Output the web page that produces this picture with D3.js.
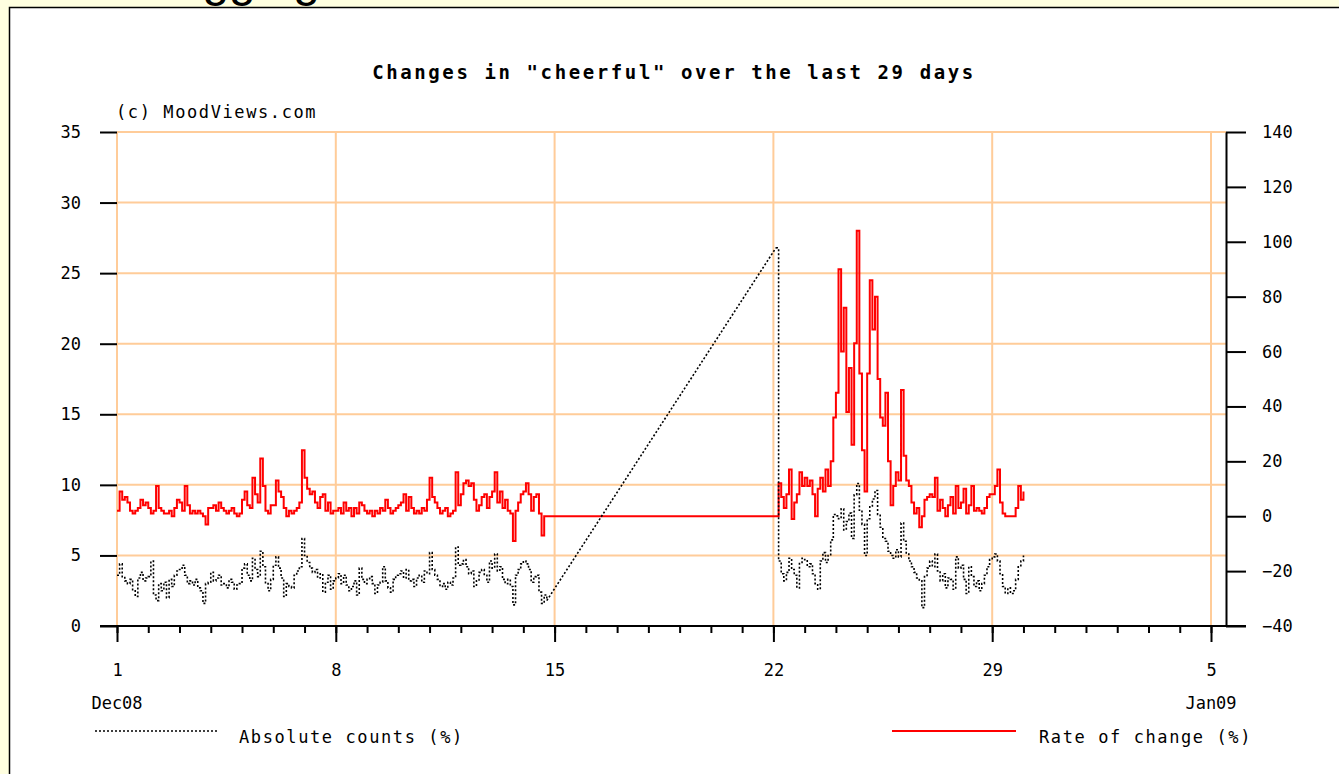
<!DOCTYPE html>
<html><head><meta charset="utf-8">
<script src="https://cdn.jsdelivr.net/npm/d3@7"></script>
<style>
body{margin:0;background:#ffffe0;overflow:hidden}
svg{display:block}
</style></head><body>
<svg id="c" width="1339" height="774"></svg>
<script>
// ---------- data ----------
const chartTitle = 'Changes in "cheerful" over the last 29 days';
const copyright = "(c) MoodViews.com";
const dayTickDays = [0, 7, 14, 21, 28, 35];          // days since Dec 1 2008
const dayTickLabels = ["1", "8", "15", "22", "29", "5"];
const monthLabelDays = [0, 35];
const monthLabels = ["Dec08", "Jan09"];
const leftTicks = [0, 5, 10, 15, 20, 25, 30, 35];
const rightTicks = [-40, -20, 0, 20, 40, 60, 80, 100, 120, 140];
const legendLabels = ["Absolute counts (%)", "Rate of change (%)"];

// samples every 2 hours
const stepDays = 2 / 24;
const seg1StartDay = 0;            // Dec 1 00:00
const seg2StartDay = 21 + 2 / 24;  // Dec 22 02:00

const rateSeg1 = [
  2, 9, 6, 7, 5, 2, 1, 2, 3, 6, 4, 5,
  3, 1, 2, 11, 3, 2, 1, 1, 2, 0, 3, 6,
  5, 2, 11, 4, 1, 2, 1, 2, 1, 0, -3, 3,
  3, 4, 2, 5, 3, 2, 1, 2, 3, 1, 0, 1,
  6, 9, 4, 3, 14, 8, 5, 21, 11, 2, 1, 4,
  4, 13, 9, 7, 3, 0, 2, 1, 2, 3, 5, 24,
  14, 10, 8, 9, 5, 3, 7, 8, 2, 5, 1, 2,
  2, 3, 1, 5, 2, 3, 0, 3, 1, 5, 4, 2,
  1, 2, 0, 2, 1, 3, 2, 6, 3, 1, 2, 3,
  4, 5, 8, 2, 7, 3, 1, 2, 1, 3, 2, 6,
  14, 7, 5, 3, 1, 2, 3, 0, 1, 2, 16, 4,
  8, 12, 13, 11, 12, 6, 2, 4, 7, 8, 3, 7,
  9, 16, 5, 9, 3, 6, 2, 1, -9, 2, 5, 8,
  9, 12, 8, 2, 7, 8, 1, -7, 0, 0
];
const absSeg1 = [
  3.6, 4.4, 3.5, 3.2, 3.0, 3.3, 2.5, 2.1, 3.4, 3.8, 3.2, 3.4,
  3.5, 4.6, 2.2, 1.8, 3.0, 2.5, 3.1, 2.0, 3.3, 2.8, 3.6, 3.9,
  4.0, 4.3, 3.6, 3.0, 3.2, 2.9, 3.3, 2.7, 2.5, 1.6, 3.0, 3.1,
  3.8, 3.2, 3.4, 3.6, 2.9, 3.0, 2.7, 3.3, 3.1, 2.6, 2.9, 3.0,
  4.1, 4.4, 3.6, 3.2, 4.8, 4.0, 3.5, 5.3, 4.2, 3.0, 2.5, 3.3,
  4.3, 4.9, 4.1, 3.4, 2.1, 3.0, 2.8, 2.7, 3.6, 3.9, 4.2, 6.2,
  5.0, 4.5, 4.1, 3.8, 4.0, 3.4, 3.7, 2.4, 3.1, 3.6, 2.6, 3.2,
  3.4, 3.7, 3.0, 3.6, 2.9, 2.5, 2.8, 3.2, 2.2, 4.1, 3.3, 3.0,
  3.3, 3.5, 3.0, 2.3, 2.9, 3.1, 4.2, 3.2, 2.7, 2.4, 3.3, 3.6,
  3.7, 3.9, 3.4, 4.0, 3.2, 3.3, 2.8, 3.4, 3.6, 3.1, 3.9, 3.7,
  5.2, 4.0, 3.6, 3.3, 2.8, 3.0, 2.6, 3.1, 2.9, 3.4, 5.6, 4.3,
  4.4, 4.7, 4.2, 3.7, 3.9, 2.8, 3.2, 3.8, 4.0, 3.6, 3.1, 4.6,
  4.1, 5.1, 3.9, 4.2, 3.3, 3.0, 3.3, 2.8, 1.5, 3.6, 4.0, 4.4,
  4.6, 4.4, 4.0, 3.1, 3.5, 3.6, 2.4, 1.6, 2.2, 1.8
];
const rateSeg2 = [
  0, 12, 7, 3, 8, 17, -1, 5, 8, 16, 11,
  14, 11, 13, 8, 0, 10, 14, 9, 17, 11, 20, 36,
  45, 90, 60, 76, 38, 54, 26, 63, 104, 52, 24, 9,
  52, 86, 68, 80, 50, 36, 33, 45, 20, 4, 11, 16,
  13, 46, 22, 13, 11, 5, 1, 3, -4, 0, 6, 7,
  8, 7, 14, 2, 6, 3, 0, 4, 7, 1, 11, 3,
  5, 10, 1, 4, 11, 2, 3, 2, 1, 3, 7, 8,
  8, 11, 17, 5, 1, 0, 0, 0, 0, 3, 11, 6,
  9
];
const absSeg2 = [
  26.8, 4.6, 3.7, 3.2, 3.8, 4.8, 4.0, 3.6, 2.7, 4.5, 4.8,
  4.7, 4.2, 4.4, 3.7, 3.0, 2.6, 4.6, 5.2, 4.5, 5.0, 6.1, 7.9,
  7.8, 7.6, 8.3, 6.8, 7.4, 8.0, 6.2, 9.3, 10.1, 8.2, 7.2, 5.0,
  7.6, 8.5, 9.0, 9.6, 7.9, 7.0, 6.2, 6.0, 5.3, 5.0, 4.8, 5.4,
  4.9, 7.3, 6.0, 5.1, 4.6, 4.2, 3.8, 3.4, 3.2, 1.3, 3.5, 4.1,
  4.6, 4.2, 5.1, 3.9, 3.2, 3.7, 2.7, 3.4, 3.3, 2.6, 4.9, 4.1,
  4.3, 3.3, 2.3, 4.2, 3.5, 2.8, 3.2, 2.5, 3.0, 3.6, 4.2, 4.7,
  4.9, 5.1, 4.6, 3.7, 2.8, 2.3, 2.7, 2.3, 2.5, 3.3, 4.2, 4.6,
  5.0
];

// ---------- build series ----------
function toPts(vals, start){ return vals.map((v,i)=>({t:start+i*stepDays, v})); }
const absPts1 = toPts(absSeg1, seg1StartDay), absPts2 = toPts(absSeg2, seg2StartDay);
const ratePts1 = toPts(rateSeg1, seg1StartDay), ratePts2 = toPts(rateSeg2, seg2StartDay);
const rateData = ratePts1.concat(ratePts2);
const absGap = [absPts1[absPts1.length-1], absPts2[0]];

// ---------- drawing ----------
const FONT = '"DejaVu Sans Mono", monospace';
const svg = d3.select("#c");

svg.append("text").attr("x", 133).attr("y", -4)
  .attr("font-family", "Liberation Sans, Arial, sans-serif").attr("font-size", 48)
  .attr("fill", "#000").text("Blogging");

svg.append("rect").attr("x", 9.5).attr("y", 7.5).attr("width", 1400).attr("height", 800)
  .attr("fill", "#ffffff").attr("stroke", "#000").attr("stroke-width", 1.5);

const x = d3.scaleLinear().domain([0, 35]).range([117, 1211]);
const yL = d3.scaleLinear().domain([0, 35]).range([626, 132]);
const yR = d3.scaleLinear().domain([-40, 140]).range([626, 132]);
const rightAxisX = 1226;
const grid = "#ffcc99";

// gridlines
svg.append("g").selectAll("line").data(leftTicks.filter(d=>d>0)).join("line")
  .attr("x1", x(0)).attr("x2", rightAxisX).attr("y1", d=>yL(d)).attr("y2", d=>yL(d))
  .attr("stroke", grid).attr("stroke-width", 2);
svg.append("g").selectAll("line").data(dayTickDays).join("line")
  .attr("x1", d=>x(d)).attr("x2", d=>x(d)).attr("y1", yL(35)).attr("y2", yL(0))
  .attr("stroke", grid).attr("stroke-width", 2);

// series
const lineRate = d3.line().x(d=>x(d.t)).y(d=>yR(d.v)).curve(d3.curveStepAfter);
const lineAbsStep = d3.line().x(d=>x(d.t)).y(d=>yL(d.v)).curve(d3.curveStepAfter);
const lineAbsLin = d3.line().x(d=>x(d.t)).y(d=>yL(d.v));
svg.append("path").datum(rateData).attr("d", lineRate)
  .attr("fill", "none").attr("stroke", "#ff0000").attr("stroke-width", 2);
const absG = svg.append("g").attr("fill", "none").attr("stroke", "#000")
  .attr("stroke-width", 1.6).attr("stroke-dasharray", "2,2");
absG.append("path").datum(absPts1).attr("d", lineAbsStep);
absG.append("path").datum(absGap).attr("d", lineAbsLin);
absG.append("path").datum(absPts2).attr("d", lineAbsStep);

function styleAxis(g){
  g.attr("font-family", FONT).attr("font-size", 17);
  g.selectAll("line").attr("stroke", "#000").attr("stroke-width", 2);
  g.selectAll("path").attr("stroke", "#000").attr("stroke-width", 2);
  g.selectAll("text").attr("fill", "#000");
}

// left axis (ticks only)
const gL = svg.append("g").attr("transform", `translate(${x(0)},0)`)
  .call(d3.axisLeft(yL).tickValues(leftTicks).tickSize(17).tickPadding(19));
gL.select(".domain").remove();
styleAxis(gL);

// right axis
const gR = svg.append("g").attr("transform", `translate(${rightAxisX},0)`)
  .call(d3.axisRight(yR).tickValues(rightTicks).tickSize(20).tickSizeOuter(0).tickPadding(16));
styleAxis(gR);

// x axis baseline
svg.append("line").attr("x1", x(0) - 17).attr("x2", rightAxisX + 20)
  .attr("y1", yL(0)).attr("y2", yL(0)).attr("stroke", "#000").attr("stroke-width", 2);
// minor (daily) ticks
const gMin = svg.append("g").attr("transform", `translate(0,${yL(0)})`)
  .call(d3.axisBottom(x).tickValues(d3.range(0, 36)).tickSize(7).tickFormat(""));
gMin.select(".domain").remove();
styleAxis(gMin);
// major ticks + labels
const gMaj = svg.append("g").attr("transform", `translate(0,${yL(0)})`)
  .call(d3.axisBottom(x).tickValues(dayTickDays).tickSize(16).tickPadding(22)
    .tickFormat((d,i)=>dayTickLabels[i]));
gMaj.select(".domain").remove();
styleAxis(gMaj);

// month labels
svg.append("g").selectAll("text").data(monthLabelDays).join("text")
  .attr("x", d=>x(d)).attr("y", 709).attr("text-anchor", "middle")
  .attr("font-family", FONT).attr("font-size", 17).attr("fill", "#000")
  .text((d,i)=>monthLabels[i]);

// title & copyright
svg.append("text").attr("x", 674).attr("y", 79).attr("text-anchor", "middle")
  .attr("font-family", FONT).attr("font-size", 19).attr("font-weight", "bold")
  .attr("letter-spacing", 2.6).attr("fill", "#000").text(chartTitle);
svg.append("text").attr("x", 116).attr("y", 118)
  .attr("font-family", FONT).attr("font-size", 17).attr("letter-spacing", 1.6)
  .attr("fill", "#000").text(copyright);

// legend
svg.append("line").attr("x1", 95).attr("x2", 218).attr("y1", 731).attr("y2", 731)
  .attr("stroke", "#000").attr("stroke-width", 1.6).attr("stroke-dasharray", "2,2");
svg.append("text").attr("x", 239).attr("y", 743)
  .attr("font-family", FONT).attr("font-size", 17).attr("letter-spacing", 1.6)
  .attr("fill", "#000").text(legendLabels[0]);
svg.append("line").attr("x1", 892).attr("x2", 1016).attr("y1", 731).attr("y2", 731)
  .attr("stroke", "#ff0000").attr("stroke-width", 2);
svg.append("text").attr("x", 1039).attr("y", 743)
  .attr("font-family", FONT).attr("font-size", 17).attr("letter-spacing", 1.6)
  .attr("fill", "#000").text(legendLabels[1]);
</script>
</body></html>
